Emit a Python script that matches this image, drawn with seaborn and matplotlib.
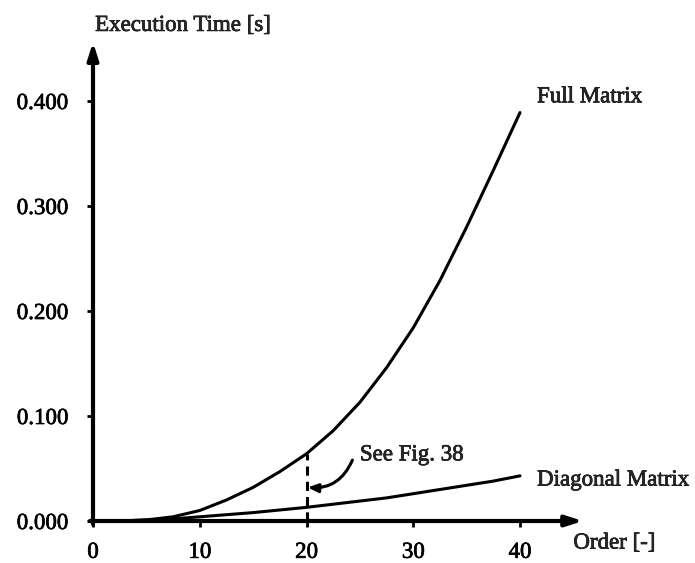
import matplotlib
matplotlib.use("Agg")
import matplotlib.pyplot as plt
import matplotlib.patheffects as pe
import seaborn as sns
import pandas as pd

# Execution time versus model order
order = [0, 2.5, 5, 7.5, 10, 12.5, 15, 17.5, 20, 22.5, 25, 27.5, 30, 32.5, 35, 37.5, 40]
full_matrix = [0.000, 0.000, 0.001, 0.004, 0.010, 0.020, 0.032, 0.047, 0.064,
               0.086, 0.113, 0.146, 0.184, 0.229, 0.280, 0.334, 0.389]
diagonal_matrix = [0.000, 0.000, 0.001, 0.002, 0.004, 0.006, 0.008, 0.0105, 0.013,
                   0.016, 0.019, 0.022, 0.026, 0.030, 0.034, 0.038, 0.043]

x_ticks = [0, 10, 20, 30, 40]
y_ticks = [0.0, 0.1, 0.2, 0.3, 0.4]
y_tick_labels = ["0.000", "0.100", "0.200", "0.300", "0.400"]

df = pd.DataFrame({"Order": order, "Full Matrix": full_matrix,
                   "Diagonal Matrix": diagonal_matrix})

sns.set_style("white")
plt.rcParams["font.family"] = ["Liberation Serif", "DejaVu Serif"]

W, H = 695, 563
fig = plt.figure(figsize=(W / 100, H / 100), dpi=100)

# pixel geometry of the data area
x0_px, y0_px = 93, 521
px_per_x = (520 - 93) / 40
px_per_y = (521 - 101) / 0.4
xmax, ymax = 46.0, 0.46
ax = fig.add_axes([x0_px / W, (H - y0_px) / H,
                   xmax * px_per_x / W, ymax * px_per_y / H])
ax.set_xlim(0, xmax)
ax.set_ylim(0, ymax)

sns.lineplot(data=df, x="Order", y="Full Matrix", ax=ax, color="black",
             linewidth=2.2, clip_on=False)
sns.lineplot(data=df, x="Order", y="Diagonal Matrix", ax=ax, color="black",
             linewidth=2.2, clip_on=False)

for s in ax.spines.values():
    s.set_visible(False)

# axis arrows
arrow_kw = dict(arrowstyle="-|>,head_length=1.0,head_width=0.32", color="black",
                lw=3.0, shrinkA=0, shrinkB=0)
ax.annotate("", xy=(45.9, 0), xytext=(-0.3, 0), xycoords="data",
            arrowprops=arrow_kw, annotation_clip=False)
ax.annotate("", xy=(0, 0.456), xytext=(0, -0.003), xycoords="data",
            arrowprops=arrow_kw, annotation_clip=False)

txt_fx = [pe.withStroke(linewidth=0.5, foreground="black")]
fs = 16.5

ax.set_xticks(x_ticks)
ax.set_xticklabels([str(t) for t in x_ticks])
ax.set_yticks(y_ticks)
ax.set_yticklabels(y_tick_labels)
ax.tick_params(axis="both", which="major", direction="out", length=4,
               width=2, color="black", labelsize=fs, labelcolor="black",
               bottom=True, left=True)
ax.tick_params(axis="x", pad=11)
ax.tick_params(axis="y", pad=14)
for lab in ax.get_xticklabels() + ax.get_yticklabels():
    lab.set_path_effects(txt_fx)
ax.set_xlabel("")
ax.set_ylabel("")

# axis titles
ax.text(0.2, 0.472, "Execution Time [s]", fontsize=fs, ha="left",
        va="center", clip_on=False, path_effects=txt_fx)
ax.text(45.0, -0.021, "Order [-]", fontsize=fs, ha="left", va="center",
        clip_on=False, path_effects=txt_fx)

# curve labels
ax.text(41.6, 0.404, "Full Matrix", fontsize=fs, ha="left", va="center",
        clip_on=False, path_effects=txt_fx)
ax.text(41.6, 0.039, "Diagonal Matrix", fontsize=fs, ha="left", va="center",
        clip_on=False, path_effects=txt_fx)

# reference marker at order 20
ax.plot([20, 20], [0, full_matrix[order.index(20)]], color="black",
        linestyle=(0, (3, 2)), linewidth=2.2, clip_on=False)
ax.annotate("", xy=(20.1, 0.032), xytext=(24.3, 0.058),
            arrowprops=dict(arrowstyle="-|>,head_length=0.6,head_width=0.25",
                            color="black", lw=2.2,
                            connectionstyle="arc3,rad=-0.35",
                            shrinkA=0, shrinkB=0))
ax.text(25.0, 0.063, "See Fig. 38", fontsize=fs, ha="left", va="center",
        path_effects=txt_fx)

fig.savefig("out.png", dpi=100)
